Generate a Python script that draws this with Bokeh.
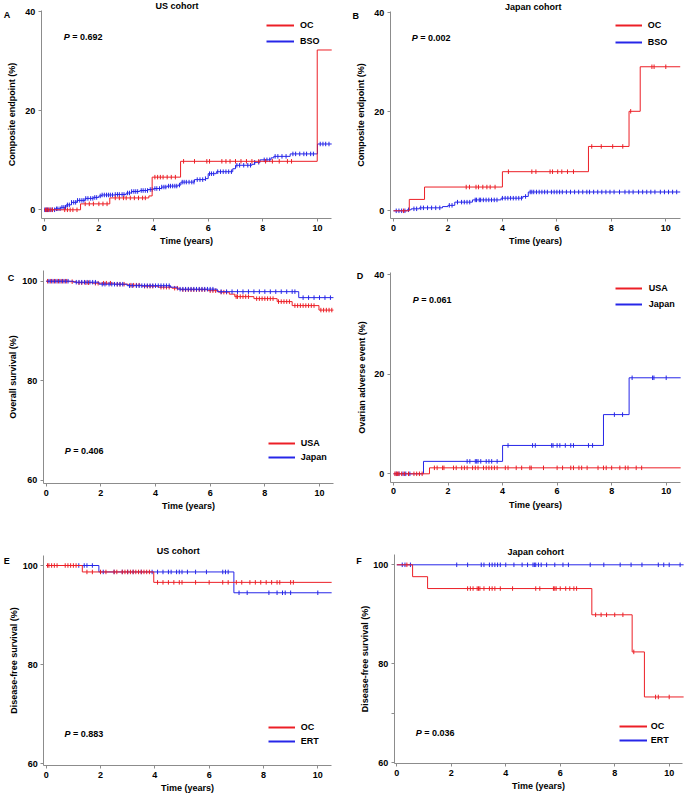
import numpy as np
from bokeh.plotting import figure
from bokeh.models import Range1d, FixedTicker, Label, Legend, LegendItem
from bokeh.layouts import gridplot
from bokeh.embed import file_html
from bokeh.resources import INLINE

# ---------------- data ----------------
x_ticks = [0, 2, 4, 6, 8, 10]
y_ticks_event = [0, 20, 40]
y_ticks_surv = [60, 80, 100]

# A: US cohort, composite endpoint (%)
A_oc_t = [0, 1.33, 2.4, 3.83, 3.95, 4.99, 9.99, 10.52]
A_oc_v = [0, 1.2, 2.4, 2.8, 6.6, 9.8, 32.3, 32.3]
A_oc_c = [0.05, 0.1, 0.15, 0.22, 0.3, 0.75, 0.85, 0.95, 1.05, 1.2, 1.5, 1.65, 1.8, 2.0, 2.15, 2.3,
          2.6, 2.75, 2.9, 3.0, 3.15, 3.3, 3.45, 3.6, 3.7, 4.05, 4.15, 4.25, 4.35, 4.5, 4.65, 4.8,
          5.1, 5.5, 5.95, 6.05, 6.5, 6.65, 6.8, 7.0, 7.2, 7.4, 7.6, 7.85, 8.1, 8.35, 8.6, 8.9, 9.05]
A_bso_t = [0, 0.4, 0.6, 0.8, 1.0, 1.2, 1.5, 1.8, 2.0, 2.1, 2.6, 3.0, 3.2, 3.5, 3.8, 4.0, 4.3, 4.5,
           4.9, 5.0, 5.5, 5.9, 6.0, 6.3, 6.9, 7.0, 7.6, 7.7, 7.9, 8.3, 8.4, 9.0, 10.0, 10.52]
A_bso_v = [0, 0.2, 0.5, 1.0, 1.5, 1.9, 2.3, 2.5, 2.8, 3.0, 3.1, 3.4, 3.7, 3.9, 4.1, 4.3, 4.6, 4.8,
           5.0, 5.6, 6.1, 6.3, 7.3, 7.7, 8.3, 9.0, 9.2, 9.6, 10.1, 10.5, 10.8, 11.3, 13.3, 13.3]
A_bso_c = [0.02, 0.08, 0.12, 0.18, 0.25, 0.3, 0.38, 0.45, 0.5, 0.58, 0.65, 0.72, 0.78, 0.85, 0.92,
           1.0, 1.08, 1.15, 1.22, 1.3, 1.38, 1.45, 1.52, 1.6, 1.7, 1.78, 1.85, 1.92, 2.05, 2.12,
           2.2, 2.28, 2.35, 2.42, 2.5, 2.6, 2.68, 2.75, 2.85, 2.92, 3.05, 3.12, 3.2, 3.28, 3.35,
           3.42, 3.55, 3.62, 3.7, 3.78, 3.88, 3.95, 4.05, 4.12, 4.22, 4.3, 4.38, 4.45, 4.55, 4.62,
           4.7, 4.78, 4.85, 4.95, 5.05, 5.12, 5.2, 5.3, 5.4, 5.48, 5.6, 5.7, 5.8, 5.9, 6.05, 6.12,
           6.2, 6.35, 6.45, 6.55, 6.65, 6.75, 6.85, 7.05, 7.15, 7.3, 7.45, 7.55, 7.7, 7.85, 8.05,
           8.15, 8.25, 8.45, 8.55, 8.7, 8.85, 9.1, 9.2, 9.35, 9.5, 9.6, 9.75, 9.85, 10.1, 10.2,
           10.3, 10.42]

# B: Japan cohort, composite endpoint (%)
B_oc_t = [0, 0.58, 1.14, 4.0, 7.16, 8.65, 9.06, 10.53]
B_oc_v = [0, 2.3, 4.8, 7.9, 13.0, 20.1, 29.1, 29.1]
B_oc_c = [0.37, 2.67, 2.79, 3.03, 3.12, 3.28, 3.43, 3.55, 3.73, 4.22, 5.08, 5.23, 5.75, 5.84,
          6.03, 6.18, 6.39, 6.61, 7.28, 7.63, 8.05, 8.42, 8.71, 9.49, 9.57, 10.0]
B_bso_t = [0, 0.5, 0.65, 0.95, 1.8, 2.0, 2.25, 2.9, 3.95, 4.75, 4.95, 10.53]
B_bso_v = [0, 0.2, 0.4, 0.6, 0.85, 1.1, 1.75, 2.2, 2.55, 2.9, 3.8, 3.8]
B_bso_c = [0.1, 0.2, 0.3, 0.42, 0.55, 0.75, 0.85, 1.0, 1.1, 1.25, 1.4, 1.55, 1.7, 2.05, 2.15,
           2.35, 2.5, 2.6, 2.7, 2.8, 3.0, 3.05, 3.15, 3.2, 3.3, 3.4, 3.5, 3.6, 3.7, 3.8, 4.0,
           4.1, 4.2, 4.3, 4.4, 4.5, 4.6, 4.7, 4.85, 5.02, 5.08, 5.15, 5.25, 5.35, 5.45, 5.55,
           5.65, 5.8, 5.9, 6.0, 6.1, 6.2, 6.35, 6.5, 6.65, 6.8, 6.95, 7.1, 7.2, 7.35, 7.5, 7.65,
           7.8, 7.95, 8.1, 8.3, 8.5, 8.65, 8.8, 9.0, 9.15, 9.3, 9.45, 9.6, 9.8, 9.95, 10.1,
           10.25, 10.4]

# C: overall survival (%)
C_usa_t = [0, 0.85, 1.1, 1.7, 2.5, 3.0, 3.5, 4.1, 4.6, 4.9, 5.9, 6.3, 6.7, 6.9, 7.6, 8.45, 9.0,
           9.98, 10.51]
C_usa_v = [100, 99.9, 99.7, 99.6, 99.4, 99.2, 99.0, 98.8, 98.6, 98.3, 98.1, 97.8, 97.4, 96.9,
           96.5, 95.9, 95.1, 94.2, 94.2]
C_usa_c = [0.05, 0.15, 0.25, 0.35, 0.45, 0.55, 0.65, 0.75, 0.95, 1.2, 1.3, 1.45, 1.55, 1.8, 1.9,
           2.1, 2.2, 2.35, 2.6, 2.7, 2.85, 3.1, 3.2, 3.3, 3.4, 3.6, 3.7, 3.8, 3.9, 4.2, 4.3, 4.4,
           4.5, 4.7, 4.8, 5.0, 5.1, 5.2, 5.3, 5.4, 5.5, 5.6, 5.7, 5.8, 6.0, 6.1, 6.2, 6.4, 6.5,
           6.6, 6.95, 7.0, 7.1, 7.2, 7.3, 7.4, 7.7, 7.8, 7.9, 8.0, 8.1, 8.2, 8.3, 8.5, 8.6, 8.7,
           8.8, 8.9, 9.1, 9.2, 9.3, 9.4, 9.5, 9.6, 9.7, 9.8, 10.05, 10.15, 10.25, 10.35, 10.45]
C_jpn_t = [0, 1.0, 1.93, 2.96, 4.55, 4.8, 6.26, 9.24, 10.51]
C_jpn_v = [100, 99.8, 99.4, 99.1, 98.8, 98.4, 97.9, 96.7, 96.7]
C_jpn_c = [0.1, 0.2, 0.3, 0.4, 0.5, 0.6, 0.7, 0.8, 1.1, 1.2, 1.3, 1.4, 1.5, 1.6, 1.7, 1.8, 2.05,
           2.15, 2.3, 2.4, 2.5, 2.6, 2.7, 2.8, 3.05, 3.15, 3.3, 3.4, 3.5, 3.6, 3.7, 3.8, 3.9,
           4.0, 4.1, 4.2, 4.3, 4.4, 4.5, 4.9, 5.0, 5.1, 5.2, 5.3, 5.4, 5.5, 5.6, 5.7, 5.8, 5.9,
           6.0, 6.1, 6.4, 6.6, 6.8, 7.0, 7.2, 7.4, 7.6, 7.8, 8.0, 8.2, 8.4, 8.6, 8.8, 9.0, 9.1,
           9.4, 9.6, 9.8, 10.0, 10.2, 10.4]

# D: ovarian adverse event (%)
D_usa_t = [0, 1.32, 10.53]
D_usa_v = [0, 1.2, 1.2]
D_usa_c = [0.05, 0.1, 0.15, 0.2, 0.3, 0.4, 0.55, 0.75, 0.85, 0.95, 1.05, 1.5, 1.6, 1.8, 1.85,
           2.2, 2.3, 2.5, 2.6, 2.7, 2.9, 3.0, 3.1, 3.3, 3.4, 3.5, 3.6, 3.7, 3.8, 4.1, 4.2, 4.5,
           4.7, 5.0, 5.05, 5.5, 6.0, 6.2, 6.5, 6.6, 6.8, 6.9, 7.1, 7.5, 7.7, 7.8, 8.0, 8.3, 8.5,
           8.6, 8.9, 9.1]
D_jpn_t = [0, 1.1, 4.0, 7.7, 8.64, 10.53]
D_jpn_v = [0, 2.5, 5.7, 11.9, 19.3, 19.3]
D_jpn_c = [0.1, 0.2, 0.35, 0.45, 0.6, 2.7, 2.8, 3.0, 3.05, 3.1, 3.2, 3.4, 3.5, 3.6, 3.8, 4.2,
           5.1, 5.2, 5.8, 5.85, 6.0, 6.1, 6.3, 6.5, 6.6, 7.15, 7.3, 8.1, 8.4, 8.75, 9.5, 9.55,
           10.0]

# E: US cohort, disease-free survival (%)
E_oc_t = [0, 1.33, 3.96, 10.51]
E_oc_v = [100, 98.7, 96.6, 96.6]
E_oc_c = [0.05, 0.1, 0.2, 0.3, 0.4, 0.7, 0.8, 0.9, 1.0, 1.1, 1.5, 1.7, 2.0, 2.2, 2.5, 2.6, 2.8,
          2.9, 3.0, 3.1, 3.2, 3.3, 3.4, 3.5, 3.6, 3.7, 3.8, 4.1, 4.3, 4.5, 4.7, 4.9, 5.0, 5.5,
          6.0, 6.5, 6.7, 7.0, 7.2, 7.5, 7.7, 7.9, 8.1, 8.3, 8.5, 8.6, 9.0, 9.1]
E_ert_t = [0, 1.94, 6.91, 10.51]
E_ert_v = [100, 98.7, 94.5, 94.5]
E_ert_c = [1.2, 1.4, 1.5, 1.7, 2.1, 2.5, 2.8, 3.0, 3.2, 3.5, 3.9, 4.1, 4.3, 4.5, 4.6, 4.8, 4.9,
           5.0, 5.2, 5.5, 5.9, 6.5, 6.6, 6.7, 7.1, 7.4, 8.2, 8.5, 8.7, 8.8, 9.0, 10.0]

# F: Japan cohort, disease-free survival (%)
F_oc_t = [0, 0.58, 1.13, 7.16, 8.64, 9.09, 10.53]
F_oc_v = [100, 97.6, 95.2, 89.9, 82.4, 73.3, 73.3]
F_oc_c = [0.37, 2.6, 2.7, 2.8, 2.95, 3.0, 3.05, 3.2, 3.4, 3.5, 3.6, 3.8, 4.25, 5.1, 5.25, 5.75,
          5.8, 5.85, 6.0, 6.2, 6.35, 6.5, 6.6, 7.3, 7.5, 7.7, 8.0, 8.3, 8.7, 9.5, 9.6, 10.0]
F_ert_t = [0, 10.53]
F_ert_v = [100, 100]
F_ert_c = [0.2, 0.3, 0.5, 2.2, 2.6, 3.1, 3.2, 3.4, 3.5, 3.6, 3.7, 3.8, 4.0, 4.3, 4.6, 4.8, 5.0,
           5.05, 5.1, 5.2, 5.3, 5.5, 5.8, 6.1, 6.3, 7.1, 7.6, 8.2, 8.6, 9.0, 9.6, 9.8, 10.0, 10.4]

# ---------------- styling / layout ----------------
RED = "#ec1f26"
BLUE = "#2626e8"
AXC = "#8c8c8c"
FONT = "Liberation Sans"
FS = "9px"
FW, FH = 343, 265


def build(g, curves, ylabel, yticks, letter, title, pval, names, yl_standoff, minor=None):
    L, R, T, B = g["frame"]
    x0px, xppu = g["x"]
    yv0, y0px, yppu = g["y"]
    xv = lambda px: (px - x0px) / xppu
    yv = lambda py: yv0 + (y0px - py) / yppu
    # the frame fills the whole cell; axes are pinned at the reference axis positions
    p = figure(width=FW, height=FH, output_backend="svg", toolbar_location=None, title=None,
               x_range=Range1d(xv(0), xv(FW)), y_range=Range1d(yv(FH), yv(0)),
               min_border=0)
    p.outline_line_color = None
    p.grid.visible = False
    p.background_fill_color = "white"
    p.border_fill_color = "white"

    xa, ya = p.xaxis[0], p.yaxis[0]
    xa.fixed_location = yv(B)
    ya.fixed_location = xv(L)
    xa.bounds = (xv(L), xv(R))
    ya.bounds = (yv(B), yv(T))
    xa.ticker = FixedTicker(ticks=x_ticks)
    ya.ticker = FixedTicker(ticks=yticks, minor_ticks=minor or [])
    xa.axis_label = "Time (years)"
    ya.axis_label = ylabel
    for ax in (xa, ya):
        ax.axis_line_color = AXC
        ax.major_tick_line_color = AXC
        ax.minor_tick_line_color = AXC
        ax.major_tick_in = 0
        ax.major_tick_out = 3
        ax.minor_tick_in = 0
        ax.minor_tick_out = 3 if minor else 0
        ax.major_label_standoff = 3
        ax.major_label_text_font = FONT
        ax.major_label_text_font_style = "bold"
        ax.major_label_text_font_size = FS
        ax.major_label_text_color = "black"
        ax.axis_label_text_font = FONT
        ax.axis_label_text_font_style = "bold"
        ax.axis_label_text_font_size = FS
        ax.axis_label_text_color = "black"
    xa.axis_label_standoff = 2
    ya.axis_label_standoff = yl_standoff

    # an off-screen y range so legend proxies (full-width lines) never show in the plot
    p.extra_y_ranges = {"legend_proxy": Range1d(1e6, 1e6 + 1)}
    proxies = {}
    for (t, v, c, color) in curves:
        t = np.asarray(t, float)
        v = np.asarray(v, float)
        c = np.asarray(c, float)
        p.step(t, v, mode="after", line_color=color, line_width=1)
        cy = v[np.searchsorted(t, c, side="right") - 1]
        p.scatter(c, cy, marker="dash", angle=np.pi / 2, size=4.5,
                  line_color=color, line_width=1)
        proxies[color] = p.line(t, v, line_color=color, line_width=2,
                                y_range_name="legend_proxy")

    def txt(xp, yp, s, align="left", style="bold"):
        p.add_layout(Label(x=xv(xp), y=yv(yp), text=s,
                           text_font=FONT, text_font_style=style, text_font_size=FS,
                           text_align=align, text_baseline="middle", text_color="black"))

    lx, ly = g["letter"]
    txt(lx, ly, letter)
    if title:
        tx, ty = g["title"]
        txt(tx, ty, title, align="center")
    px, py = g["p"]
    txt(px, py, "P", style="bold italic")
    txt(px + 8.4, py, "= " + pval)

    l0, l1, tl, r1, r2 = g["leg"]
    item_h = 12
    spacing = max(0, int(round((r2 - r1) - item_h)))
    box_h = 2 * item_h + spacing
    box_top = r1 - item_h / 2.0
    legend = Legend(items=[LegendItem(label=names[0], renderers=[proxies[RED]]),
                           LegendItem(label=names[1], renderers=[proxies[BLUE]])],
                    location=(l0, FH - box_top - box_h), padding=0, margin=0, spacing=spacing,
                    glyph_width=int(round(l1 - l0)), glyph_height=item_h,
                    label_height=item_h, label_standoff=int(round(tl - l1)),
                    border_line_color=None, background_fill_alpha=0,
                    label_text_font=FONT, label_text_font_style="bold",
                    label_text_font_size=FS, label_text_color="black")
    p.add_layout(legend)
    return p


gA = dict(frame=(40.7, 331, 10, 218), x=(43.7, 27.33), y=(0, 209.3, 4.9475),
          letter=(3.3, 14), title=(176.5, 5.7), p=(63.3, 36), leg=(266, 294, 300, 25, 41))
gB = dict(frame=(46.7, 336.7, 11, 218), x=(50, 27.23), y=(0, 210.3, 4.95),
          letter=(9, 15), title=(189.7, 6), p=(68.3, 37.3), leg=(271.7, 299, 305, 25, 41.7))
gC = dict(frame=(42.7, 333, 5, 218.3), x=(45.7, 27.33), y=(100, 15.7, 4.98),
          letter=(7.3, 12.3), p=(64.3, 185), leg=(267.7, 295, 300.7, 178.3, 192.7))
gD = dict(frame=(46.7, 336.7, 6.7, 216.7), x=(50, 27.27), y=(0, 208.3, 4.975),
          letter=(13.3, 10), p=(69.3, 34.3), leg=(271.7, 299, 305.7, 23.3, 39))
gE = dict(frame=(43.3, 331, 25, 235), x=(45.7, 27.16), y=(100, 35, 4.96),
          letter=(3.3, 30), title=(177.7, 20.7), p=(64, 203.3), leg=(267.7, 295, 301, 196.7, 211))
gF = dict(frame=(50.7, 339.3, 24, 233.3), x=(53.3, 27.24), y=(100, 34.3, 4.95),
          letter=(12.7, 30.7), title=(192.3, 21.7), p=(72.3, 202.7), leg=(275.7, 304, 308.3, 195.7, 210))

pA = build(gA, [(A_bso_t, A_bso_v, A_bso_c, BLUE), (A_oc_t, A_oc_v, A_oc_c, RED)],
           "Composite endpoint (%)", y_ticks_event, "A", "US cohort", "0.692", ["OC", "BSO"], 5)
pB = build(gB, [(B_bso_t, B_bso_v, B_bso_c, BLUE), (B_oc_t, B_oc_v, B_oc_c, RED)],
           "Composite endpoint (%)", y_ticks_event, "B", "Japan cohort", "0.002", ["OC", "BSO"], 5)
pC = build(gC, [(C_usa_t, C_usa_v, C_usa_c, RED), (C_jpn_t, C_jpn_v, C_jpn_c, BLUE)],
           "Overall survival (%)", y_ticks_surv, "C", None, "0.406", ["USA", "Japan"], 1)
pD = build(gD, [(D_jpn_t, D_jpn_v, D_jpn_c, BLUE), (D_usa_t, D_usa_v, D_usa_c, RED)],
           "Ovarian adverse event (%)", y_ticks_event, "D", None, "0.061", ["USA", "Japan"], 4)
pE = build(gE, [(E_ert_t, E_ert_v, E_ert_c, BLUE), (E_oc_t, E_oc_v, E_oc_c, RED)],
           "Disease-free survival (%)", y_ticks_surv, "E", "US cohort", "0.883", ["OC", "ERT"], 0)
pF = build(gF, [(F_ert_t, F_ert_v, F_ert_c, BLUE), (F_oc_t, F_oc_v, F_oc_c, RED)],
           "Disease-free survival (%)", y_ticks_surv, "F", "Japan cohort", "0.036", ["OC", "ERT"], 0,
           minor=[70])

grid = gridplot([[pA, pB], [pC, pD], [pE, pF]], toolbar_location=None)

open("out.html", "w").write(file_html(grid, INLINE))
